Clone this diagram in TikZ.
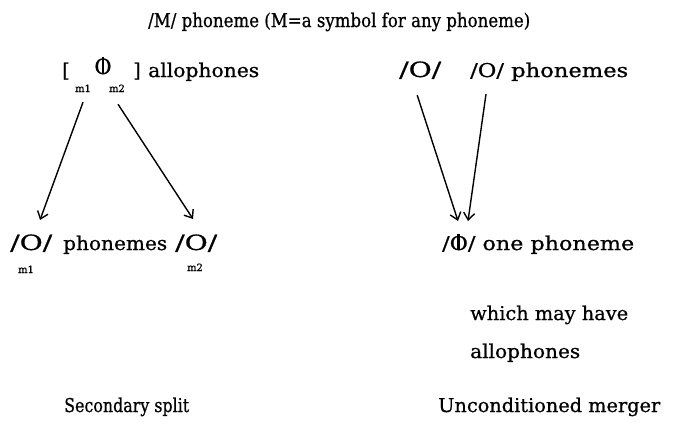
\documentclass[tikz,border=0pt]{standalone}
\usepackage{fontspec}
\usepackage{graphicx}
\setmainfont[FakeBold=0.8]{DejaVu Serif}
\newfontfamily\subfont[FakeBold=1]{DejaVu Serif}
\usetikzlibrary{arrows.meta}
\newcommand{\obar}{{\ooalign{O\cr\hidewidth\rule[0.05ex]{0.13em}{1.55ex}\hidewidth\cr}}}
\newcommand{\fitw}[2]{\resizebox{#1pt}{\height}{#2}}
\begin{document}
\begin{tikzpicture}[x=1pt,y=-1pt,
  txt/.style={inner sep=0pt,anchor=base west,font=\fontsize{19}{22}\selectfont},
  ctxt/.style={inner sep=0pt,anchor=base,font=\fontsize{19}{22}\selectfont},
  big/.style={font=\fontsize{21}{22}\selectfont},
  sub/.style={inner sep=0pt,anchor=base,font=\subfont\fontsize{10}{11}\selectfont},
  arr/.style={line width=1.4pt,-{Straight Barb[length=7pt,width=11pt,line width=1.4pt]}}]
\useasboundingbox (0,0) rectangle (676,429);
\node[txt] (title) at (148,27) {\fitw{382}{/M/ phoneme (M=a symbol for any phoneme)}};
% left
\node[ctxt] (lb) at (66,77) {[};
\node[ctxt,big] (phi) at (103,74) {\obar};
\node[ctxt] (rb) at (137,77) {]};
\node[txt] (allo) at (148,77) {\fitw{111}{allophones}};
\node[sub] (m1) at (83,92) {m1};
\node[sub] (m2) at (117,92) {m2};
\node[txt,big] (o1) at (10,250) {\fitw{42}{/O/}};
\node[txt] (ph) at (63,250) {\fitw{104}{phonemes}};
\node[txt,big] (o2) at (175,250) {\fitw{42}{/O/}};
\node[sub] (b1) at (26,273) {m1};
\node[sub] (b2) at (195,271) {m2};
\coordinate (t1) at (40,220);
\coordinate (t2) at (193,219);
\draw[arr] (m1.south) ++(0,10) coordinate (s1) -- (t1);
\draw[arr] (m2.south) ++(1,12) coordinate (s2) -- (t2);
% right
\node[txt,big] (r1) at (399,77) {\fitw{42}{/O/}};
\node[txt] (r2) at (470,77) {\fitw{158}{/O/ phonemes}};
\node[txt] (one) at (442,250) {\fitw{192}{/\obar/ one phoneme}};
\coordinate (t3) at (458,221);
\coordinate (t4) at (468,221);
\draw[arr] (r1.south) ++(-3,16) coordinate (s3) -- (t3);
\draw[arr] (r2.south west) ++(16,13) coordinate (s4) -- (t4);
\node[txt] (w1) at (470,320) {\fitw{158}{which may have}};
\node[txt] (w2) at (470,358) {\fitw{110}{allophones}};
\node[txt] (cap1) at (64,412) {\fitw{125}{Secondary split}};
\node[txt] (cap2) at (438,412) {\fitw{222}{Unconditioned merger}};
\end{tikzpicture}
\end{document}
